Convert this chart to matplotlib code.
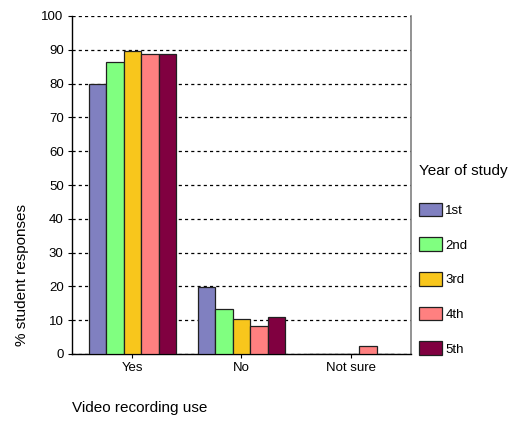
import matplotlib

matplotlib.use("Agg")
import matplotlib.pyplot as plt
import numpy as np

plt.rcParams["font.family"] = ["Liberation Sans", "DejaVu Sans"]

categories = ["Yes", "No", "Not sure"]
years = ["1st", "2nd", "3rd", "4th", "5th"]
values = [
    [80.0, 19.8, 0.0],   # 1st
    [86.5, 13.2, 0.0],   # 2nd
    [89.5, 10.3, 0.0],   # 3rd
    [88.9, 8.3, 2.4],    # 4th
    [88.9, 10.9, 0.0],   # 5th
]
colors = ["#8080C0", "#80FF80", "#F8C61C", "#FF8080", "#800040"]
y_ticks = list(range(0, 101, 10))

fig = plt.figure(figsize=(5.21, 4.22), dpi=100, facecolor="white")
ax = fig.add_axes([72 / 521, 68 / 422, 339 / 521, 338 / 422])

x = np.arange(len(categories))
w = 0.16
for i, (yr, vals, c) in enumerate(zip(years, values, colors)):
    ax.bar(x + (i - 2) * w, vals, width=w, color=c, edgecolor="#202020",
           linewidth=0.9, label=yr, zorder=3)

ax.set_xlim(-0.555, 2.555)
ax.set_ylim(0, 100)
ax.set_xticks(x)
ax.set_xticklabels(categories, fontsize=9.5)
ax.set_yticks(y_ticks)
ax.set_yticklabels([str(t) for t in y_ticks], fontsize=9.5)
ax.tick_params(axis="both", length=3, width=0.8, color="black", pad=3)

ax.grid(axis="y", linestyle=(0, (2.5, 2.5)), color="black", linewidth=0.9, zorder=1)
ax.spines["top"].set_visible(False)
ax.spines["right"].set_color("#808080")
ax.spines["right"].set_linewidth(1.2)
ax.spines["left"].set_linewidth(1.0)
ax.spines["bottom"].set_linewidth(1.0)

fig.text(22 / 521, (422 - 275) / 422, "% student responses", rotation=90,
         ha="center", va="center", fontsize=11)
fig.text(72 / 521, 14 / 422, "Video recording use", ha="left", va="center",
         fontsize=11)

leg = ax.legend(loc="upper left", bbox_to_anchor=(1.0, 0.585), frameon=False,
                title="Year of study", title_fontsize=11, fontsize=9.5,
                handlelength=1.75, handleheight=1.2, handletextpad=0.25,
                labelspacing=1.55, borderaxespad=0.2)
leg._legend_box.align = "left"
leg._legend_box.sep += 3

fig.savefig("out.png", dpi=100, facecolor="white")
